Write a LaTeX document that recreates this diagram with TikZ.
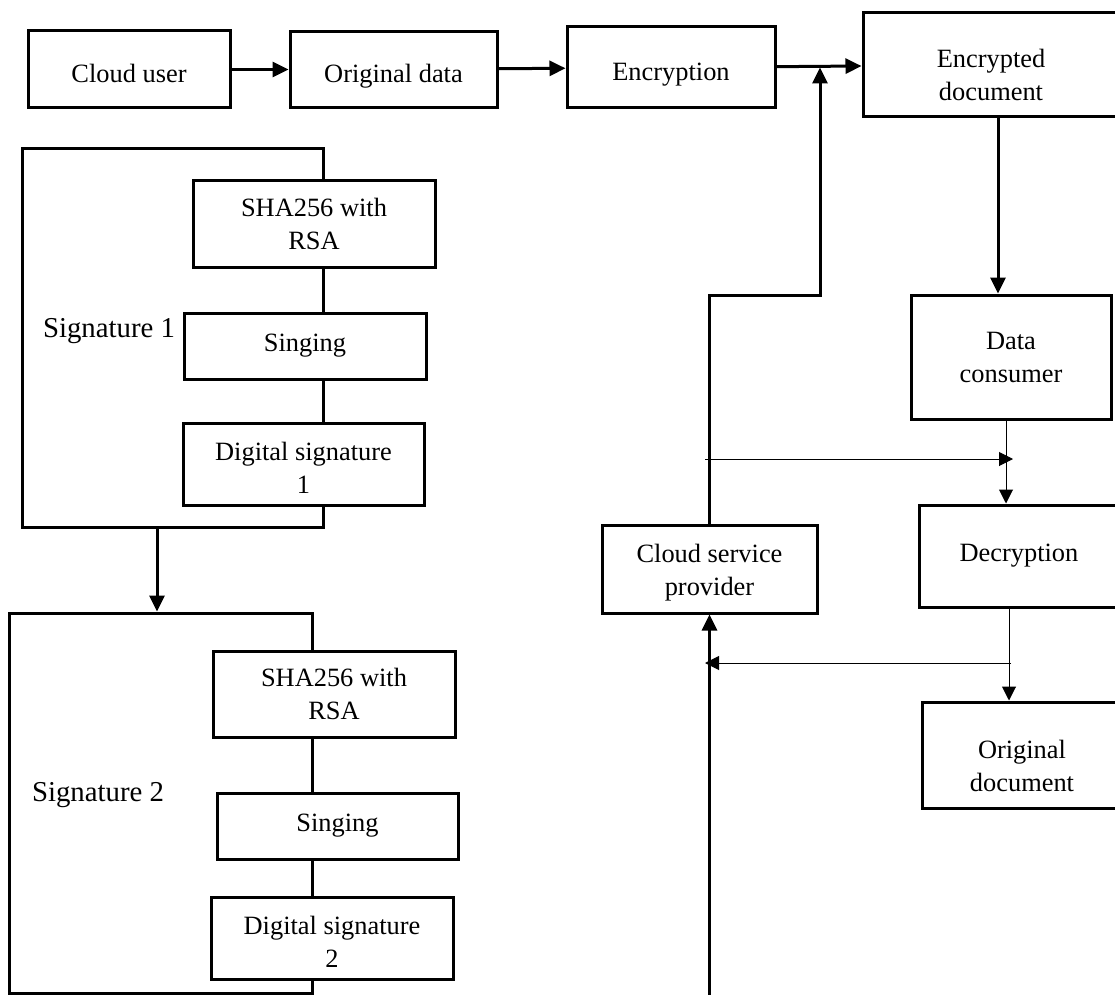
\documentclass[tikz,border=0pt]{standalone}
\usepackage{fontspec}
\setmainfont{Liberation Serif}
\usetikzlibrary{arrows.meta}

\begin{document}
\begin{tikzpicture}[x=0.5pt, y=-0.5pt, font=\fontsize{13.2}{16.5}\selectfont]
        % Setup the styles for the boxes and arrows
        \tikzset{node style/.style={draw, rectangle,
                                    line width=1.5pt,
                                    fill=white,
                                    align=center,
                                    inner sep=0pt}}
        \tikzset{low text/.style={text height=16pt, text depth=2.5pt}}
        \tikzset{frame style/.style={draw, rectangle,
                                    line width=1.5pt,
                                    inner sep=0pt}}
        \tikzset{label style/.style={font=\fontsize{14.4}{17}\selectfont}}
        \tikzset{thick arrow/.style={line width=1.5pt,
                                    -{Triangle[length=8pt, width=7.5pt]}}}
        \tikzset{thin arrow/.style={line width=0.5pt,
                                    -{Triangle[length=7pt, width=7pt]}}}

        \useasboundingbox (0,0) rectangle (1115,995);
        \clip (0,0) rectangle (1115,995);

        % Draw the signature frames
        \node[frame style, minimum width=150.5pt, minimum height=189pt] at (172.5, 338) (sig1) {};
        \node[frame style, minimum width=151.5pt, minimum height=190pt] at (160.5, 803) (sig2) {};
        \node[label style] at (109, 331) (sig1label) {Signature 1};
        \node[label style] at (98, 795) (sig2label) {Signature 2};

        % Draw the boxes inside the frames
        \node[node style, minimum width=121pt, minimum height=43pt] at (314, 224) (sha1) {SHA256 with\\RSA};
        \node[node style, minimum width=121pt, minimum height=33pt] at (305, 346) (sing1) {Singing};
        \node[node style, minimum width=120.5pt, minimum height=41pt,
              label={[align=center, yshift=-2pt]center:Digital signature\\1}] at (303.5, 464) (dsig1) {};
        \node[node style, minimum width=121pt, minimum height=43pt] at (334, 694) (sha2) {SHA256 with\\RSA};
        \node[node style, minimum width=120.5pt, minimum height=33pt] at (337.5, 826) (sing2) {Singing};
        \node[node style, minimum width=121pt, minimum height=41pt,
              label={[align=center, yshift=-2pt]center:Digital signature\\2}] at (332, 938) (dsig2) {};

        % Draw the other boxes
        \node[node style, low text, minimum width=101pt, minimum height=38.5pt] at (129, 69.5) (user) {Cloud user};
        \node[node style, low text, minimum width=103.5pt, minimum height=38pt] at (393.5, 69.5) (odata) {Original data};
        \node[node style, low text, minimum width=104pt, minimum height=40.5pt] at (671, 67.5) (enc) {Encryption};
        \node[node style, minimum width=128pt, minimum height=52pt,
              label={[align=center, yshift=-5pt]center:Encrypted\\document}] at (991, 65) (encdoc) {};
        \node[node style, minimum width=100pt, minimum height=62pt] at (1011, 357) (cons) {Data\\consumer};
        \node[node style, minimum width=100pt, minimum height=51pt] at (1019, 556) (dec) {Decryption};
        \node[node style, minimum width=100pt, minimum height=53pt,
              label={[align=center, yshift=-5.5pt]center:Original\\document}] at (1022, 755) (odoc) {};
        \node[node style, minimum width=107.5pt, minimum height=44pt,
              label={[align=center, yshift=-2pt]center:Cloud service\\provider}] at (709.5, 569) (csp) {};

        % Connect the boxes
        \draw[thick arrow]
              (user)     edge            (odata)
              (odata)    edge            (enc)
              (enc)      edge            (encdoc);
        \coordinate (turn) at (820, 295);
        \draw[thick arrow] (csp.north) |- (turn) -- (turn |- enc.east);
        \draw[thick arrow] ([xshift=3.5pt]encdoc.south) -- ([xshift=3.5pt]encdoc.south |- cons.north);
        \draw[thin arrow] ([xshift=-2.5pt]cons.south) -- ([xshift=-2.5pt]cons.south |- dec.north);
        \draw[thin arrow] ([xshift=-5pt]dec.south) -- ([xshift=-5pt]dec.south |- odoc.north);
        \coordinate (out1) at (705, 459);
        \coordinate (in1) at (1013, 459);
        \draw[thin arrow] (out1) -- (in1);
        \coordinate (out2) at (1011, 663);
        \coordinate (in2) at (705, 663);
        \draw[thin arrow] (out2) -- (in2);
        \coordinate (feed) at (709.5, 1000);
        \draw[thick arrow] (feed) -- (csp.south);
        \draw[thick arrow] ([xshift=-7.75pt]sig1.south) -- ([xshift=-7.75pt]sig1.south |- sig2.north);
\end{tikzpicture}
\end{document}
